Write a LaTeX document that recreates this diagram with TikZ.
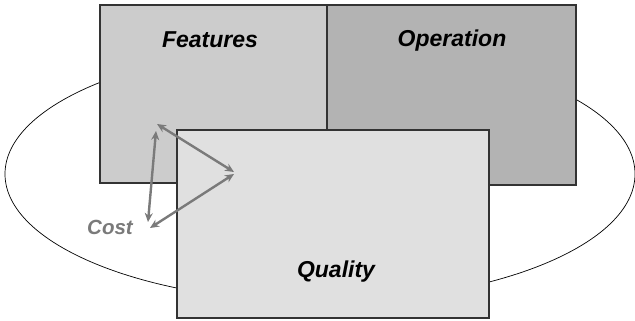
\documentclass[tikz,border=0pt]{standalone}
\usepackage{fontspec}
\setmainfont{Liberation Sans}
\usetikzlibrary{arrows.meta,shapes.geometric}
\definecolor{featfill}{HTML}{CCCCCC}
\definecolor{opfill}{HTML}{B3B3B3}
\definecolor{qualfill}{HTML}{E0E0E0}
\definecolor{boxline}{HTML}{333333}
\definecolor{arrowgray}{HTML}{7A7A7A}
\tikzset{
  panel/.style={draw=boxline, line width=1.3pt, anchor=north west, inner sep=0pt, outer sep=0pt},
  label/.style={font=\fontsize{23}{26}\selectfont\bfseries\itshape, anchor=base, inner sep=0pt},
  costlabel/.style={font=\fontsize{20.5}{24}\selectfont\bfseries\itshape, text=arrowgray, anchor=base, inner sep=0pt},
  rel/.style={draw=arrowgray, line width=2.4pt, {Stealth[length=9pt,width=8pt]}-{Stealth[length=9pt,width=8pt]}}
}
\begin{document}
\begin{tikzpicture}[x=1pt,y=-1pt]
\useasboundingbox (0,0) rectangle (635,321);
\node[ellipse, draw=black, line width=0.7pt, minimum width=630pt, minimum height=256pt, inner sep=0pt] (cycle) at (320,174) {};
\node[panel, fill=featfill, minimum width=227pt, minimum height=178pt] (feat) at (100,5) {};
\node[panel, fill=opfill, minimum width=249pt, minimum height=180pt] (oper) at (327,5) {};
\node[panel, fill=qualfill, minimum width=312pt, minimum height=188pt] (qual) at (177,130) {};
\node[label] (tfeat) at (210,48) {Features};
\node[label] (toper) at (452,47) {Operation};
\node[label] (tqual) at (336,277) {Quality};
\node[costlabel] (tcost) at (110,234) {Cost};
\coordinate (a1s) at (156,131);
\coordinate (a1e) at (148,222);
\coordinate (a2s) at (157,124);
\coordinate (a2e) at (234,172);
\coordinate (a3s) at (234,174);
\coordinate (a3e) at (150,228);
\draw[rel] (a1s) -- (a1e);
\draw[rel] (a2s) -- (a2e);
\draw[rel] (a3s) -- (a3e);
\end{tikzpicture}
\end{document}
